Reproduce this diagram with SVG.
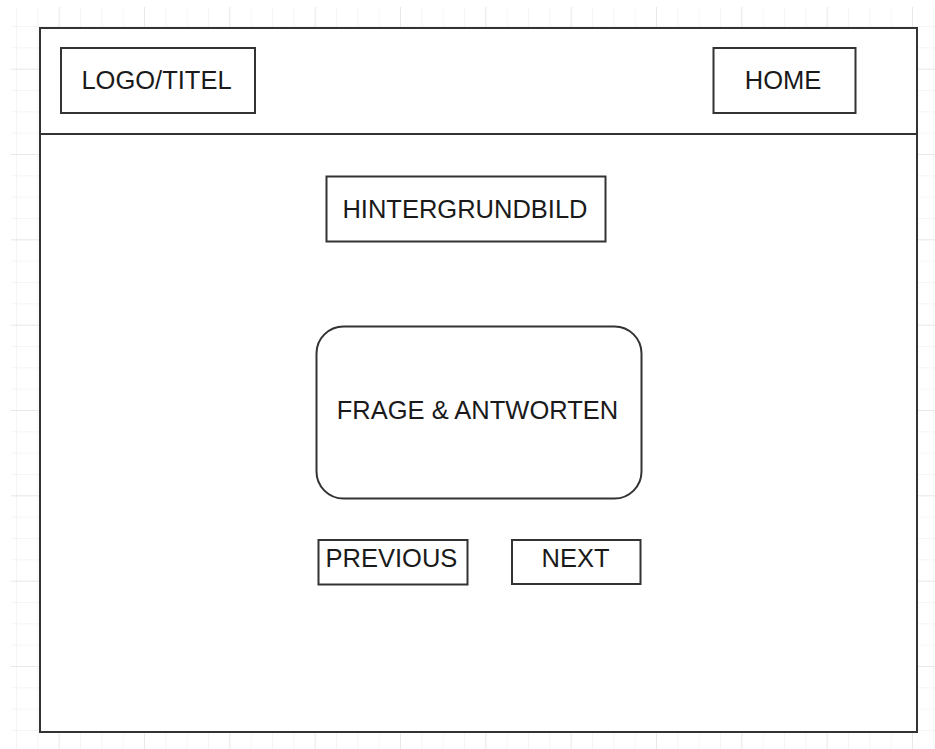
<svg xmlns="http://www.w3.org/2000/svg" width="935" height="749" viewBox="0 0 935 749">
  <defs>
    <pattern id="minor" x="16" y="4.67" width="21.333" height="21.333" patternUnits="userSpaceOnUse">
      <path d="M 0 0 V 21.333 M 0 0 H 21.333" fill="none" stroke="#ececec" stroke-width="1"/>
    </pattern>
    <pattern id="major" x="58.67" y="68.67" width="85.333" height="85.333" patternUnits="userSpaceOnUse">
      <path d="M 0 0 V 85.333 M 0 0 H 85.333" fill="none" stroke="#dcdcdc" stroke-width="1"/>
    </pattern>
  </defs>
  <style>
    .box { fill: #ffffff; stroke: #333333; stroke-width: 2; }
    .lbl { font-family: "Liberation Sans", Arial, sans-serif; font-size: 25.5px; fill: #1a1a1a; text-anchor: middle; }
  </style>
  <rect width="935" height="749" fill="#ffffff"/>
  <rect x="11" y="7" width="924" height="742" fill="url(#minor)"/>
  <rect x="11" y="7" width="924" height="742" fill="url(#major)"/>

  <g id="frame">
    <rect class="box" x="40" y="28" width="877" height="704"/>
    <line x1="40" y1="134" x2="917" y2="134" stroke="#333333" stroke-width="2"/>
  </g>
  <g id="logo">
    <rect class="box" x="61" y="48" width="194" height="65"/>
    <text class="lbl" x="156.5" y="89">LOGO/TITEL</text>
  </g>
  <g id="home">
    <rect class="box" x="713.5" y="48" width="142" height="65"/>
    <text class="lbl" x="783" y="89">HOME</text>
  </g>
  <g id="hintergrundbild">
    <rect class="box" x="326.5" y="176.5" width="279" height="65"/>
    <text class="lbl" x="465" y="217.5">HINTERGRUNDBILD</text>
  </g>
  <g id="frage">
    <rect class="box" x="316.5" y="326.5" width="325" height="172" rx="27" ry="27"/>
    <text class="lbl" x="477.5" y="418.5">FRAGE &amp; ANTWORTEN</text>
  </g>
  <g id="previous">
    <rect class="box" x="318.5" y="540" width="149" height="44.5"/>
    <text class="lbl" x="391.5" y="567">PREVIOUS</text>
  </g>
  <g id="next">
    <rect class="box" x="512" y="540" width="128.5" height="44"/>
    <text class="lbl" x="575.5" y="567">NEXT</text>
  </g>
  <g id="connectors"/>
</svg>
